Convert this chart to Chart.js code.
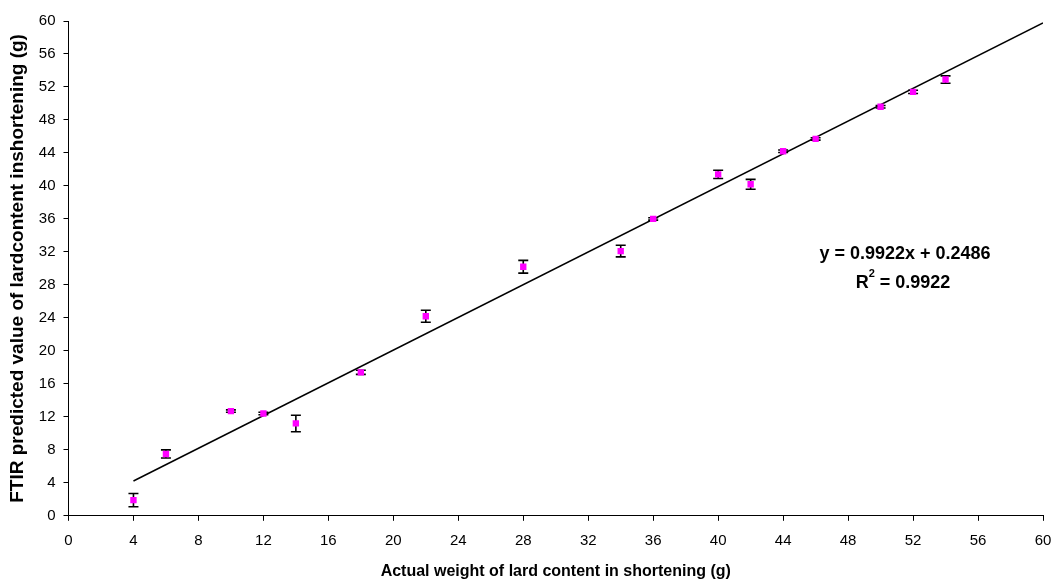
<!DOCTYPE html>
<html lang="en">
<head>
<meta charset="UTF-8">
<title>FTIR predicted vs actual lard content</title>
<script src="https://cdn.jsdelivr.net/npm/chart.js"></script>
<style>
  html, body { margin: 0; padding: 0; background: #fff; }
  #wrap { width: 1054px; height: 584px; }
</style>
</head>
<body>
<div id="wrap"><canvas id="chart" width="1054" height="584"></canvas></div>
<script>
// actual weight of lard (g)
const actual = [4, 6, 10, 12, 14, 18, 22, 28, 34, 36, 40, 42, 44, 46, 50, 52, 54];
// FTIR predicted value (g)
const predicted = [1.9, 7.5, 12.7, 12.4, 11.2, 17.4, 24.2, 30.2, 32.1, 36.0, 41.4, 40.2, 44.2, 45.7, 49.6, 51.4, 52.9];
// +/- error (g)
const errors = [0.8, 0.5, 0.15, 0.15, 1.0, 0.25, 0.73, 0.77, 0.7, 0.15, 0.5, 0.6, 0.15, 0.15, 0.15, 0.2, 0.45];
// trend line: y = 0.9922x + 0.2486
const slope = 0.9922, intercept = 0.2486;
const trendX = [4, 60];
const tickStep = 4;

const FONT = "'Liberation Sans', Arial, sans-serif";

const errorBars = {
  id: 'errorBars',
  beforeDatasetsDraw(chart) {
    const { ctx, scales: { x, y } } = chart;
    ctx.save();
    ctx.strokeStyle = '#000';
    ctx.lineWidth = 1.6;
    actual.forEach((v, i) => {
      const px = x.getPixelForValue(v);
      const top = y.getPixelForValue(predicted[i] + errors[i]);
      const bot = y.getPixelForValue(predicted[i] - errors[i]);
      ctx.beginPath();
      ctx.moveTo(px, top); ctx.lineTo(px, bot);
      ctx.moveTo(px - 5, top); ctx.lineTo(px + 5, top);
      ctx.moveTo(px - 5, bot); ctx.lineTo(px + 5, bot);
      ctx.stroke();
    });
    ctx.restore();
  }
};

const equation = {
  id: 'equation',
  afterDraw(chart) {
    const { ctx } = chart;
    ctx.save();
    ctx.fillStyle = '#000';
    ctx.textBaseline = 'middle';
    ctx.font = 'bold 18px ' + FONT;
    ctx.textAlign = 'center';
    ctx.fillText('y = 0.9922x + 0.2486', 905, 254);
    // R² line, centred
    ctx.textAlign = 'left';
    const wR = ctx.measureText('R').width;
    const wRest = ctx.measureText(' = 0.9922').width;
    ctx.font = 'bold 11px ' + FONT;
    const w2 = ctx.measureText('2').width;
    let sx = 903 - (wR + w2 + wRest) / 2;
    ctx.font = 'bold 18px ' + FONT;
    ctx.fillText('R', sx, 283);
    ctx.font = 'bold 11px ' + FONT;
    ctx.fillText('2', sx + wR, 274);
    ctx.font = 'bold 18px ' + FONT;
    ctx.fillText(' = 0.9922', sx + wR + w2, 283);
    ctx.restore();
  }
};

new Chart(document.getElementById('chart').getContext('2d'), {
  type: 'scatter',
  data: {
    datasets: [
      {
        label: 'Predicted',
        data: actual.map((v, i) => ({ x: v, y: predicted[i] })),
        pointStyle: 'rect',
        pointRadius: 4.5,
        backgroundColor: '#ff00ff',
        borderColor: '#ff00ff',
        borderWidth: 0
      },
      {
        label: 'Linear',
        type: 'line',
        data: trendX.map(v => ({ x: v, y: slope * v + intercept })),
        borderColor: '#000',
        borderWidth: 1.5,
        pointRadius: 0,
        fill: false
      }
    ]
  },
  options: {
    responsive: false,
    animation: false,
    layout: { padding: { left: 6, right: 1, top: 21, bottom: 3 } },
    plugins: {
      legend: { display: false },
      tooltip: { enabled: false }
    },
    scales: {
      x: {
        type: 'linear',
        min: 0, max: 60,
        afterFit(scale) { scale.paddingRight = 11; },
        ticks: { stepSize: tickStep, color: '#000', font: { family: FONT, size: 15 }, padding: 11 },
        grid: { drawOnChartArea: false, drawTicks: true, tickLength: 5, color: '#000' },
        border: { color: '#000', width: 1 },
        title: {
          display: true,
          text: 'Actual weight of lard content in shortening (g)',
          color: '#000',
          font: { family: FONT, size: 16, weight: 'bold' },
          padding: { top: 1, bottom: 0 }
        }
      },
      y: {
        type: 'linear',
        min: 0, max: 60,
        ticks: { stepSize: tickStep, color: '#000', font: { family: FONT, size: 15 }, padding: 8 },
        grid: { drawOnChartArea: false, drawTicks: true, tickLength: 5, color: '#000' },
        border: { color: '#000', width: 1 },
        title: {
          display: true,
          text: 'FTIR predicted value of lardcontent inshortening (g)',
          color: '#000',
          font: { family: FONT, size: 19, weight: 'bold' },
          padding: { top: 0, bottom: 2 }
        }
      }
    }
  },
  plugins: [errorBars, equation]
});
</script>
</body>
</html>
